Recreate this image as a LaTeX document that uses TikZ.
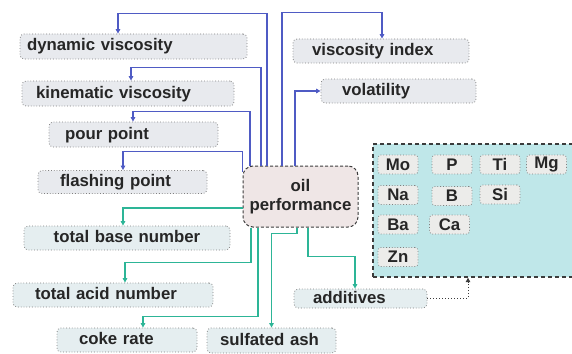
\documentclass[tikz,border=0pt]{standalone}
\usepackage{fontspec}
\setmainfont{Liberation Sans}
\usetikzlibrary{arrows.meta,calc}
\definecolor{lblue}{HTML}{4F5BC4}
\definecolor{lteal}{HTML}{2DB597}
\definecolor{boxA}{HTML}{E8EAEE}
\definecolor{boxB}{HTML}{E5EEF0}
\definecolor{oilfill}{HTML}{EFE6E6}
\definecolor{panelfill}{HTML}{BFE7E9}
\definecolor{elfill}{HTML}{ECECEA}
\definecolor{txt}{HTML}{262626}
\definecolor{bord}{HTML}{808080}
\definecolor{dark}{HTML}{3C3C3C}
\begin{document}
\begin{tikzpicture}[x=1pt,y=-1pt,
  font=\fontsize{16.8}{19}\selectfont\bfseries,
  pbox/.style={draw=bord, dotted, line width=0.8pt, rounded corners=4pt, fill=boxA,
    inner ysep=0pt, align=left, text=txt, text height=12.5pt, text depth=3.5pt},
  tbox/.style={pbox, fill=boxB},
  ebox/.style={draw=bord, dotted, line width=0.8pt, rounded corners=3pt, fill=elfill,
    minimum width=40pt, minimum height=19pt, inner sep=0pt, text=txt},
  bl/.style={draw=lblue, line width=1.2pt, -{Triangle[length=4.5pt,width=4.5pt]}},
  tl/.style={draw=lteal, line width=1.2pt, -{Triangle[length=4.5pt,width=4.5pt]}}]
\useasboundingbox (0,0) rectangle (572,353);
\clip (0,0) rectangle (572,353);
% panel
\node[draw=dark, dashed, dash pattern=on 4pt off 3pt, line width=1.3pt, fill=panelfill,
  minimum width=212pt, minimum height=133pt, inner sep=0pt] (panel) at (479,210.5) {};
\node[ebox] (mo) at (398,164.5) {Mo};
\node[ebox] (p)  at (452,164.5) {P};
\node[ebox] (ti) at (500,164.5) {Ti};
\node[ebox] (mg) at (546.5,164.5) {Mg};
\node[ebox] (na) at (398,195) {Na};
\node[ebox] (b)  at (452,196) {B};
\node[ebox] (si) at (500,194.5) {Si};
\node[ebox] (ba) at (398,224.5) {Ba};
\node[ebox] (ca) at (449.5,224.5) {Ca};
\node[ebox] (zn) at (398,257) {Zn};
% boxes
\node[pbox, text width=213pt, inner xsep=7pt, minimum height=25pt] (dyn) at (133.5,46.5) {dynamic viscosity};
\node[pbox, text width=184pt, inner xsep=14pt, minimum height=25pt] (kin) at (128,93.5) {kinematic viscosity};
\node[pbox, text width=137pt, inner xsep=16pt, minimum height=25pt] (pour) at (133.5,134.5) {pour point};
\node[pbox, text width=125pt, inner xsep=22pt, minimum height=23pt] (flash) at (122.5,182) {flashing point};
\node[pbox, text width=138pt, inner xsep=19pt, minimum height=24pt] (vi) at (381,51) {viscosity index};
\node[pbox, text width=113pt, inner xsep=21pt, minimum height=24pt] (vol) at (398.5,91) {volatility};
\node[tbox, text width=186pt, inner xsep=10pt, align=center, minimum height=24pt] (tbn) at (127,238) {total base number};
\node[tbox, text width=156pt, inner xsep=22pt, minimum height=24pt] (tan) at (113,295) {total acid number};
\node[tbox, text width=96pt, inner xsep=22pt, minimum height=24pt] (coke) at (127,340) {coke rate};
\node[tbox, text width=103pt, inner xsep=13pt, minimum height=25pt] (sa) at (271.5,340.5) {sulfated ash};
\node[tbox, text width=95pt, inner xsep=19pt, minimum height=19pt] (add) at (360.5,298.5) {additives};
% oil
\node[draw=dark, dash pattern=on 3pt off 2pt, line width=1pt, rounded corners=10pt, fill=oilfill,
  minimum width=115pt, minimum height=61pt, inner sep=0pt, align=center, text=txt] (oil) at (300.5,196.5) {oil\\performance};
% blue connectors
\draw[bl] ([xshift=-33.5pt]oil.north) |- ([xshift=-15.5pt,yshift=20pt]dyn.north) -- ([xshift=-15.5pt]dyn.north);
\draw[bl] ([xshift=-39.5pt]oil.north) |- ([xshift=3pt,yshift=13pt]kin.north) -- ([xshift=3pt]kin.north);
\draw[bl] ([xshift=-50.5pt]oil.north) |- ([xshift=-0.5pt,yshift=10pt]pour.north) -- ([xshift=-0.5pt]pour.north);
\draw[bl] ([yshift=24.5pt]oil.west) |- ([xshift=0.5pt,yshift=19pt]flash.north) -- ([xshift=0.5pt]flash.north);
\draw[bl] ([xshift=-18.5pt]oil.north) |- ([xshift=1pt,yshift=26pt]vi.north) -- ([xshift=1pt]vi.north);
\draw[bl] ([xshift=-5.5pt]oil.north) |- (vol.west);
% teal connectors
\draw[tl] ([yshift=-11.5pt]oil.west) -| ([xshift=-4pt]tbn.north);
\draw[tl] ([xshift=-49.5pt]oil.south) |- ([xshift=12pt,yshift=20pt]tan.north) -- ([xshift=12pt]tan.north);
\draw[tl] ([xshift=-42.5pt]oil.south) |- ([xshift=16pt,yshift=11pt]coke.north) -- ([xshift=16pt]coke.north);
\draw[tl] ([xshift=-3.5pt]oil.south) |- ([yshift=94pt]sa.north) -- (sa.north);
\draw[tl] ([xshift=7.5pt]oil.south) |- ([xshift=-5.5pt,yshift=32pt]add.north) -- ([xshift=-5.5pt]add.north);
% additives to panel
\draw[draw=dark, dotted, line width=1pt, -{Triangle[length=4.5pt,width=4.5pt]}] (add.east) -| ([xshift=-11pt]panel.south);
\end{tikzpicture}
\end{document}
